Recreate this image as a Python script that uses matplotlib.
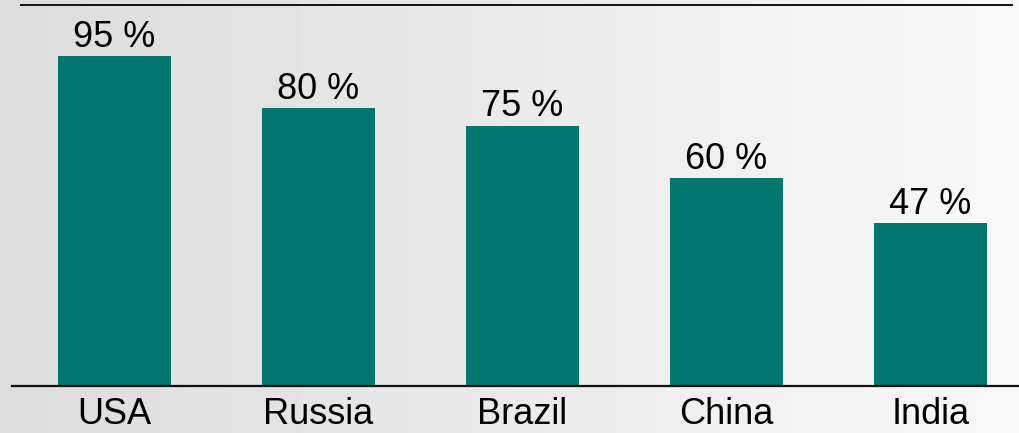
import matplotlib
matplotlib.use("Agg")
import matplotlib.pyplot as plt
from matplotlib.lines import Line2D
import numpy as np

countries = ["USA", "Russia", "Brazil", "China", "India"]
shares = [95, 80, 75, 60, 47]

plt.rcParams["font.family"] = ["Liberation Sans", "DejaVu Sans"]

W, H = 1020, 433
fig = plt.figure(figsize=(W / 100, H / 100), dpi=100)

# soft grey-to-white backdrop across the whole figure
bg = fig.add_axes([0, 0, 1, 1], zorder=-10)
gx, gy = np.meshgrid(np.linspace(0, 1, 256), np.linspace(0, 1, 64))
shade = 0.862 + 0.112 * gx
bg.imshow(shade, cmap="gray", vmin=0, vmax=1, aspect="auto", extent=[0, 1, 0, 1])
bg.axis("off")

ax = fig.add_axes([12 / W, (H - 386) / H, (W - 12) / W, 381 / H])
ax.patch.set_visible(False)
x = np.arange(len(countries))
bars = ax.bar(x, shares, width=0.555, color="#027770")
ax.set_xlim(-0.502, 4.44)
ax.set_ylim(0, 109.7)

for b, v in zip(bars, shares):
    ax.annotate(f"{v} %", (b.get_x() + b.get_width() / 2, v),
                xytext=(0, 6.5), textcoords="offset points",
                ha="center", va="baseline", fontsize=26, color="black")

ax.set_xticks(x)
ax.set_xticklabels(countries, fontsize=26)
ax.tick_params(axis="x", length=0, pad=8)
ax.set_yticks([])
for s in ["top", "right", "left"]:
    ax.spines[s].set_visible(False)
ax.spines["bottom"].set_linewidth(1.6)
ax.spines["bottom"].set_color("#111111")

# rule across the top
fig.add_artist(Line2D([21 / W, 1012 / W], [(H - 5) / H] * 2,
                      color="#111111", linewidth=1.4))

fig.savefig("out.png", dpi=100)
